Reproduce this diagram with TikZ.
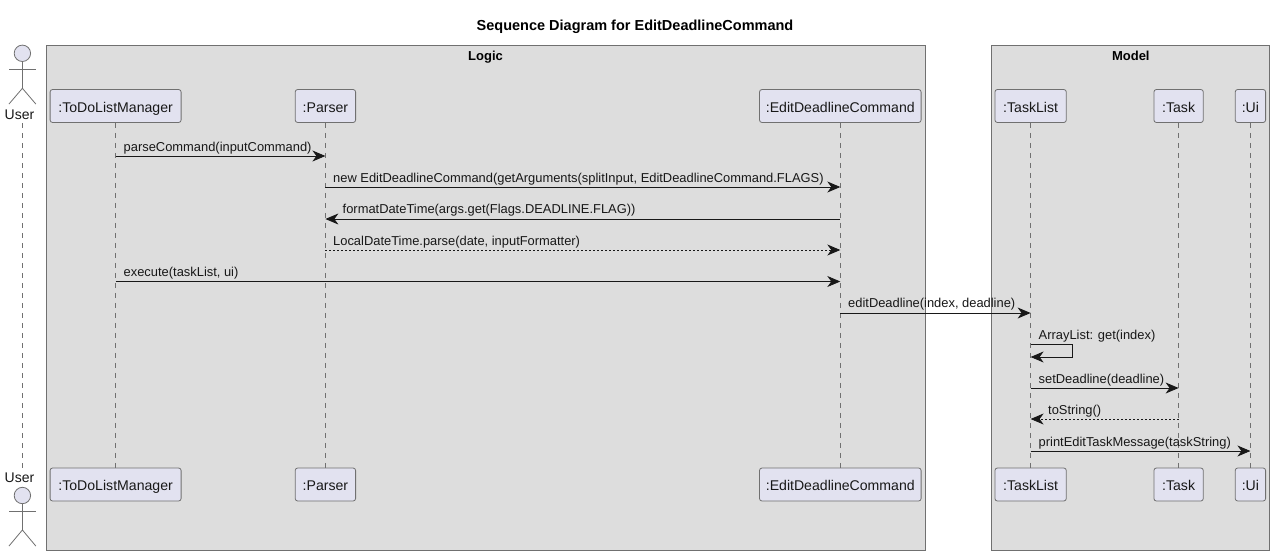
\documentclass[tikz,border=0pt]{standalone}
\usepackage{fontspec}
\setmainfont{Liberation Sans}
\usetikzlibrary{arrows.meta,calc}
\definecolor{boxfill}{HTML}{DDDDDD}
\definecolor{partfill}{HTML}{E2E2F0}
\definecolor{partline}{HTML}{707070}
\definecolor{ink}{HTML}{181818}
\tikzset{
  x=1pt,y=-1pt,
  grp/.style={draw=partline,fill=boxfill,line width=0.9pt,inner sep=0pt},
  grplabel/.style={font=\fontsize{13}{15}\selectfont\bfseries,text=black,inner sep=0pt,anchor=base},
  part/.style={draw=partline,fill=partfill,line width=0.8pt,rounded corners=2.5pt,inner sep=0pt,font=\fontsize{14.1}{16}\selectfont,text=ink,minimum height=33pt,text height=15pt,text depth=3pt},
  life/.style={draw=partline,line width=0.7pt,dash pattern=on 5pt off 5pt},
  msg/.style={draw=ink,line width=0.85pt,-{Stealth[length=13pt,width=11pt,inset=4pt]}},
  ret/.style={msg,dash pattern=on 2pt off 2pt},
  lab/.style={font=\fontsize{12.9}{14}\selectfont,text=ink,inner sep=0pt,anchor=base west},
  actorname/.style={font=\fontsize{14}{16}\selectfont,text=ink,inner sep=0pt},
  actorpart/.style={draw=partline,line width=0.8pt},
}
\begin{document}
\begin{tikzpicture}
\useasboundingbox (0,0) rectangle (1274,555);
\fill[white] (0,0) rectangle (1274,555);
\node[font=\fontsize{14.5}{16}\selectfont\bfseries,inner sep=0pt,anchor=base] (title) at (635,30) {Sequence Diagram for EditDeadlineCommand};
\node[grp,minimum width=879pt,minimum height=505pt] (logic) at (485.5,297.5) {};
\node[grp,minimum width=278.4pt,minimum height=505pt] (model) at (1130.5,297.5) {};
\node[grplabel] (logiclab) at (485.5,60) {Logic};
\node[grplabel] (modellab) at (1130.8,60) {Model};
% lifeline participants
\node[part,minimum width=131pt] (a1) at (115.6,106) {:ToDoListManager};
\node[part,minimum width=60.4pt] (b1) at (325.4,106) {:Parser};
\node[part,minimum width=161.6pt] (c1) at (840.3,106) {:EditDeadlineCommand};
\node[part,minimum width=71.4pt] (d1) at (1030.6,106) {:TaskList};
\node[part,minimum width=49.4pt] (e1) at (1178.6,106) {:Task};
\node[part,minimum width=30.4pt] (f1) at (1250.4,106) {:Ui};
\node[part,minimum width=131pt] (a2) at (115.6,484.5) {:ToDoListManager};
\node[part,minimum width=60.4pt] (b2) at (325.4,484.5) {:Parser};
\node[part,minimum width=161.6pt] (c2) at (840.3,484.5) {:EditDeadlineCommand};
\node[part,minimum width=71.4pt] (d2) at (1030.6,484.5) {:TaskList};
\node[part,minimum width=49.4pt] (e2) at (1178.6,484.5) {:Task};
\node[part,minimum width=30.4pt] (f2) at (1250.4,484.5) {:Ui};
\foreach \n in {a,b,c,d,e,f} {\draw[life] (\n1.south) -- (\n2.north);}
% actors
\node[actorname] (u1) at (19.5,115) {User};
\node[actorname] (u2) at (19.5,478) {User};
\coordinate (ut) at (22.4,123);
\coordinate (ub) at (22.4,470);
\draw[life] (ut) -- (ub);
\draw[actorpart,fill=partfill] (22.4,53.3) circle (8.2pt);
\draw[actorpart] (22.4,61.5) -- (22.4,88.3) (9,69.4) -- (35.8,69.4) (22.4,88.3) -- (9,104) (22.4,88.3) -- (35.8,104);
\draw[actorpart,fill=partfill] (22.4,495.5) circle (8.2pt);
\draw[actorpart] (22.4,503.7) -- (22.4,530) (9,511.4) -- (35.8,511.4) (22.4,530) -- (9,546) (22.4,530) -- (35.8,546);
% messages
\draw[msg] (a1.south |- 0,156) -- (b1.south |- 0,156);
\node[lab] at (123.5,151) {parseCommand(inputCommand)};
\draw[msg] (b1.south |- 0,187) -- (c1.south |- 0,187);
\node[lab] at (333,182) {new EditDeadlineCommand(getArguments(splitInput, EditDeadlineCommand.FLAGS)};
\draw[msg] (c1.south |- 0,219) -- (b1.south |- 0,219);
\node[lab] at (342.5,213.5) {formatDateTime(args.get(Flags.DEADLINE.FLAG))};
\draw[ret] (b1.south |- 0,250) -- (c1.south |- 0,250);
\node[lab] at (333,245) {LocalDateTime.parse(date, inputFormatter)};
\draw[msg] (a1.south |- 0,281.5) -- (c1.south |- 0,281.5);
\node[lab] at (123.5,276) {execute(taskList, ui)};
\draw[msg] (c1.south |- 0,313) -- (d1.south |- 0,313);
\node[lab] at (848,307.5) {editDeadline(index, deadline)};
\draw[msg] (d1.south |- 0,344) -- (1072.5,344) -- (1072.5,357) -- (d1.south |- 0,357);
\node[lab] at (1038.5,339) {ArrayList: get(index)};
\draw[msg] (d1.south |- 0,388) -- (e1.south |- 0,388);
\node[lab] at (1038.5,383) {setDeadline(deadline)};
\draw[ret] (e1.south |- 0,419) -- (d1.south |- 0,419);
\node[lab] at (1048,414) {toString()};
\draw[msg] (d1.south |- 0,451) -- (f1.south |- 0,451);
\node[lab] at (1038.5,446) {printEditTaskMessage(taskString)};
\end{tikzpicture}
\end{document}
